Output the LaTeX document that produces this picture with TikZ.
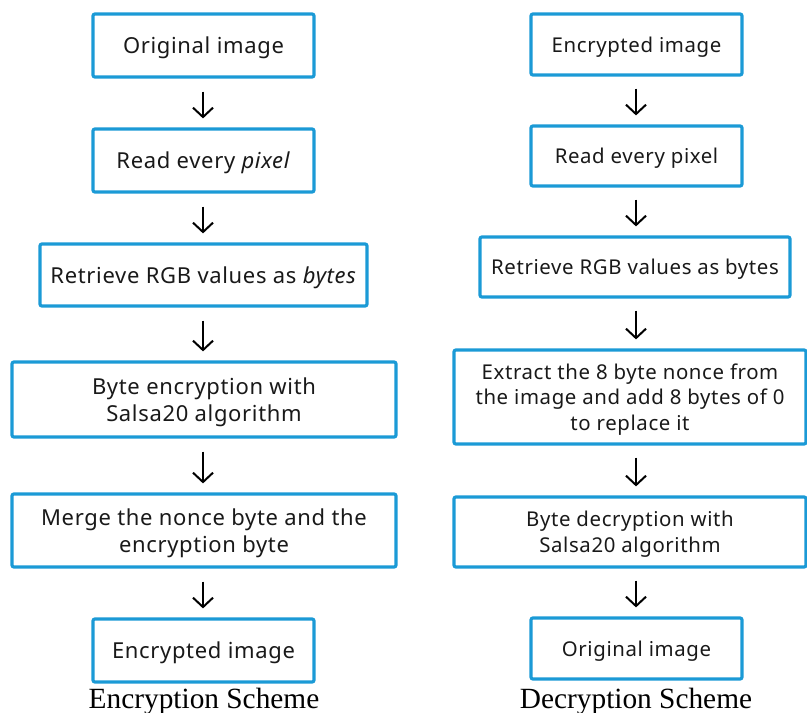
\documentclass[tikz,border=0pt]{standalone}
\usepackage{fontspec}
\setmainfont{Liberation Serif}
\newfontfamily\boxfont[LetterSpace=3]{Noto Sans}
\usetikzlibrary{arrows.meta}
\definecolor{boxblue}{HTML}{1B9AD6}
\begin{document}
\begin{tikzpicture}[x=0.75pt,y=-0.75pt,
  stepbox/.style={draw=boxblue,line width=2.4pt,rounded corners=1.5pt,align=center,
    font=\boxfont\fontsize{16.5}{20.5}\selectfont,inner sep=0pt,text=black!90,text depth=0pt},
  rbox/.style={stepbox,font=\boxfont\fontsize{15.3}{19.2}\selectfont},
  flow/.style={-{Straight Barb[length=7pt,width=15pt,line width=1.5pt]},line width=1.5pt,black},
  captext/.style={font=\fontsize{22}{24}\selectfont,inner sep=0pt}]
\useasboundingbox (0,0) rectangle (807,713);
% left column
\node[stepbox,minimum width=221*0.75pt,minimum height=63*0.75pt] (l1) at (203.5,45.5) {Original image};
\node[stepbox,minimum width=221*0.75pt,minimum height=63*0.75pt] (l2) at (203.5,160.5) {Read every \textit{pixel}};
\node[stepbox,minimum width=327*0.75pt,minimum height=62*0.75pt] (l3) at (203.5,275) {Retrieve RGB values as \textit{bytes}};
\node[stepbox,minimum width=384*0.75pt,minimum height=75*0.75pt] (l4) at (204,399.5) {Byte encryption with\\Salsa20 algorithm};
\node[stepbox,minimum width=384*0.75pt,minimum height=73*0.75pt] (l5) at (204,530.5) {Merge the nonce byte and the\\encryption byte};
\node[stepbox,minimum width=221*0.75pt,minimum height=63*0.75pt] (l6) at (203.5,650.5) {Encrypted image};
% right column
\node[rbox,minimum width=211*0.75pt,minimum height=61*0.75pt] (r1) at (636.5,44.5) {Encrypted image};
\node[rbox,minimum width=211*0.75pt,minimum height=60*0.75pt] (r2) at (636.5,156) {Read every pixel};
\node[rbox,minimum width=310*0.75pt,minimum height=60*0.75pt] (r3) at (635,267) {Retrieve RGB values as bytes};
\node[rbox,minimum width=352*0.75pt,minimum height=94*0.75pt] (r4) at (630,397) {Extract the 8 byte nonce from\\the image and add 8 bytes of 0\\to replace it};
\node[rbox,minimum width=352*0.75pt,minimum height=70*0.75pt] (r5) at (630,532) {Byte decryption with\\Salsa20 algorithm};
\node[rbox,minimum width=211*0.75pt,minimum height=61*0.75pt] (r6) at (636.5,648.5) {Original image};
% arrows
\foreach \a/\b in {l1/l2,l2/l3,l3/l4,l4/l5,l5/l6}{
  \draw[flow] ([yshift=-13*0.75pt]\a.south -| 203,0) -- ([yshift=9*0.75pt]\b.north -| 203,0);
}
\foreach \a/\b in {r1/r2,r2/r3,r3/r4,r4/r5,r5/r6}{
  \draw[flow] ([yshift=-12*0.75pt]\a.south -| 636,0) -- ([yshift=9*0.75pt]\b.north -| 636,0);
}
% captions
\node[captext] (c1) at (204,701) {Encryption Scheme};
\node[captext] (c2) at (636,701) {Decryption Scheme};
\end{tikzpicture}
\end{document}
